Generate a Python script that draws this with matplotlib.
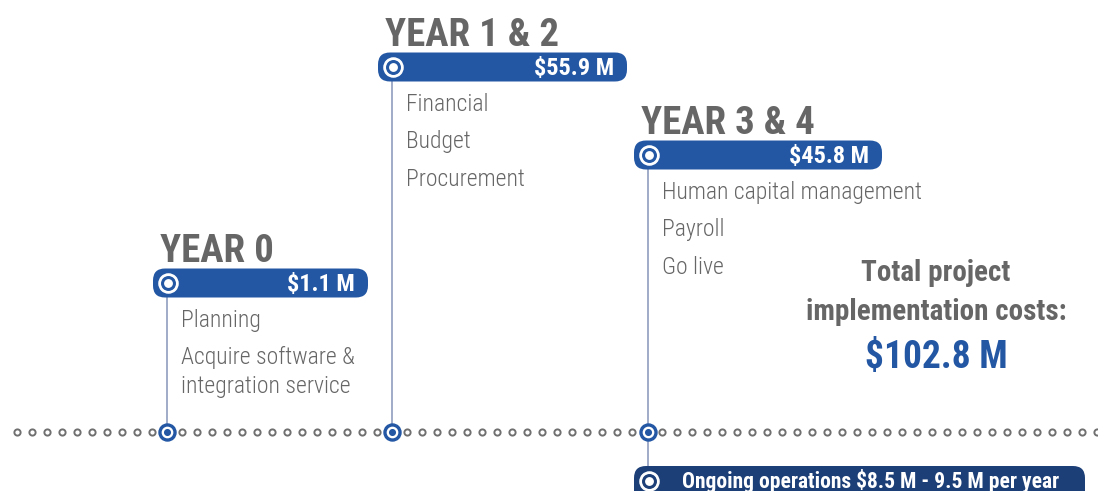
import matplotlib
matplotlib.use("Agg")
import matplotlib.pyplot as plt
from matplotlib.patches import FancyBboxPatch

# data
phase_titles = ["YEAR 0", "YEAR 1 & 2", "YEAR 3 & 4"]
phase_costs = ["$1.1 M", "$55.9 M", "$45.8 M"]
phase_items = [["Planning", "Acquire software &\nintegration service"],
               ["Financial", "Budget", "Procurement"],
               ["Human capital management", "Payroll", "Go live"]]
total_label = "Total project\nimplementation costs:"
total_cost = "$102.8 M"
ongoing_label = "Ongoing operations $8.5 M - 9.5 M per year"

# layout (pixels)
phase_x = [167, 392, 648]
bar_y = [283, 67, 155]
bar_left = [153, 378, 634]
bar_right = [368, 627, 882]
line_y = 432

blue = "#2357a4"
navy = "#1c3f78"
grey = "#666666"
stem = "#98a6c4"
cond = ["Roboto Condensed", "DejaVu Sans"]

fig = plt.figure(figsize=(10.98, 4.91), dpi=100)
ax = fig.add_axes([0, 0, 1, 1])
ax.set_xlim(0, 1098)
ax.set_ylim(491, 0)
ax.axis("off")

# dotted timeline
dots_x = [17 + 15 * i for i in range(73)]
dots_x = [d for d in dots_x if all(abs(d - p) > 6 for p in phase_x)]
ax.scatter(dots_x, [line_y] * len(dots_x), s=20, facecolor="white",
           edgecolor="#707070", linewidth=1.4, zorder=2)

def ring(x, y, outer, inner, ring_col, fill_col, z):
    ax.scatter([x], [y], s=outer, color=ring_col, zorder=z)
    ax.scatter([x], [y], s=inner, color=fill_col, zorder=z + 0.1)
    ax.scatter([x], [y], s=inner * 0.3, color=ring_col, zorder=z + 0.2)

for i in range(3):
    x = phase_x[i]
    y = bar_y[i]
    h = 29
    ax.plot([x, x], [y, line_y], color=stem, lw=1.3, zorder=1)
    ring(x, line_y, 150, 55, blue, "white", 3)
    ax.add_patch(FancyBboxPatch((bar_left[i], y - h / 2),
                                bar_right[i] - bar_left[i], h,
                                boxstyle="round,pad=0,rounding_size=12",
                                facecolor=blue, edgecolor="none", zorder=4))
    ring(x + 1, y, 190, 95, "white", blue, 5)
    ax.text(bar_right[i] - 13, y + 1, phase_costs[i], color="white",
            fontsize=17.5, fontweight="bold", family=cond,
            ha="right", va="center", zorder=6)
    ax.text(bar_left[i] + 7, y - 21, phase_titles[i], color=grey,
            fontsize=28, fontweight="bold", family=cond,
            ha="left", va="baseline", zorder=6)
    ty = y + 37
    for item in phase_items[i]:
        for k, line in enumerate(item.split("\n")):
            ax.text(bar_left[i] + 28, ty + 29 * k, line, color=grey,
                    fontsize=17, family=cond, fontweight="light",
                    ha="left", va="center")
        ty += 37.5

# total
ax.text(936, 273, total_label.split("\n")[0], color=grey, fontsize=21,
        fontweight="bold", family=cond, ha="center", va="center")
ax.text(936, 312, total_label.split("\n")[1], color=grey, fontsize=21,
        fontweight="bold", family=cond, ha="center", va="center")
ax.text(936, 358, total_cost, color=blue, fontsize=27, fontweight="bold",
        family=cond, ha="center", va="center")

# ongoing bar
ax.plot([648, 648], [line_y, 475], color=stem, lw=1.3, zorder=1)
ax.add_patch(FancyBboxPatch((634, 466), 451, 40,
                            boxstyle="round,pad=0,rounding_size=12",
                            facecolor=navy, edgecolor="none", zorder=4))
ring(649, 481, 190, 95, "white", navy, 5)
ax.text(682, 481, ongoing_label, color="white", fontsize=15.5,
        fontweight="bold", family=cond, ha="left", va="center", zorder=6)

fig.savefig("out.png", dpi=100)
